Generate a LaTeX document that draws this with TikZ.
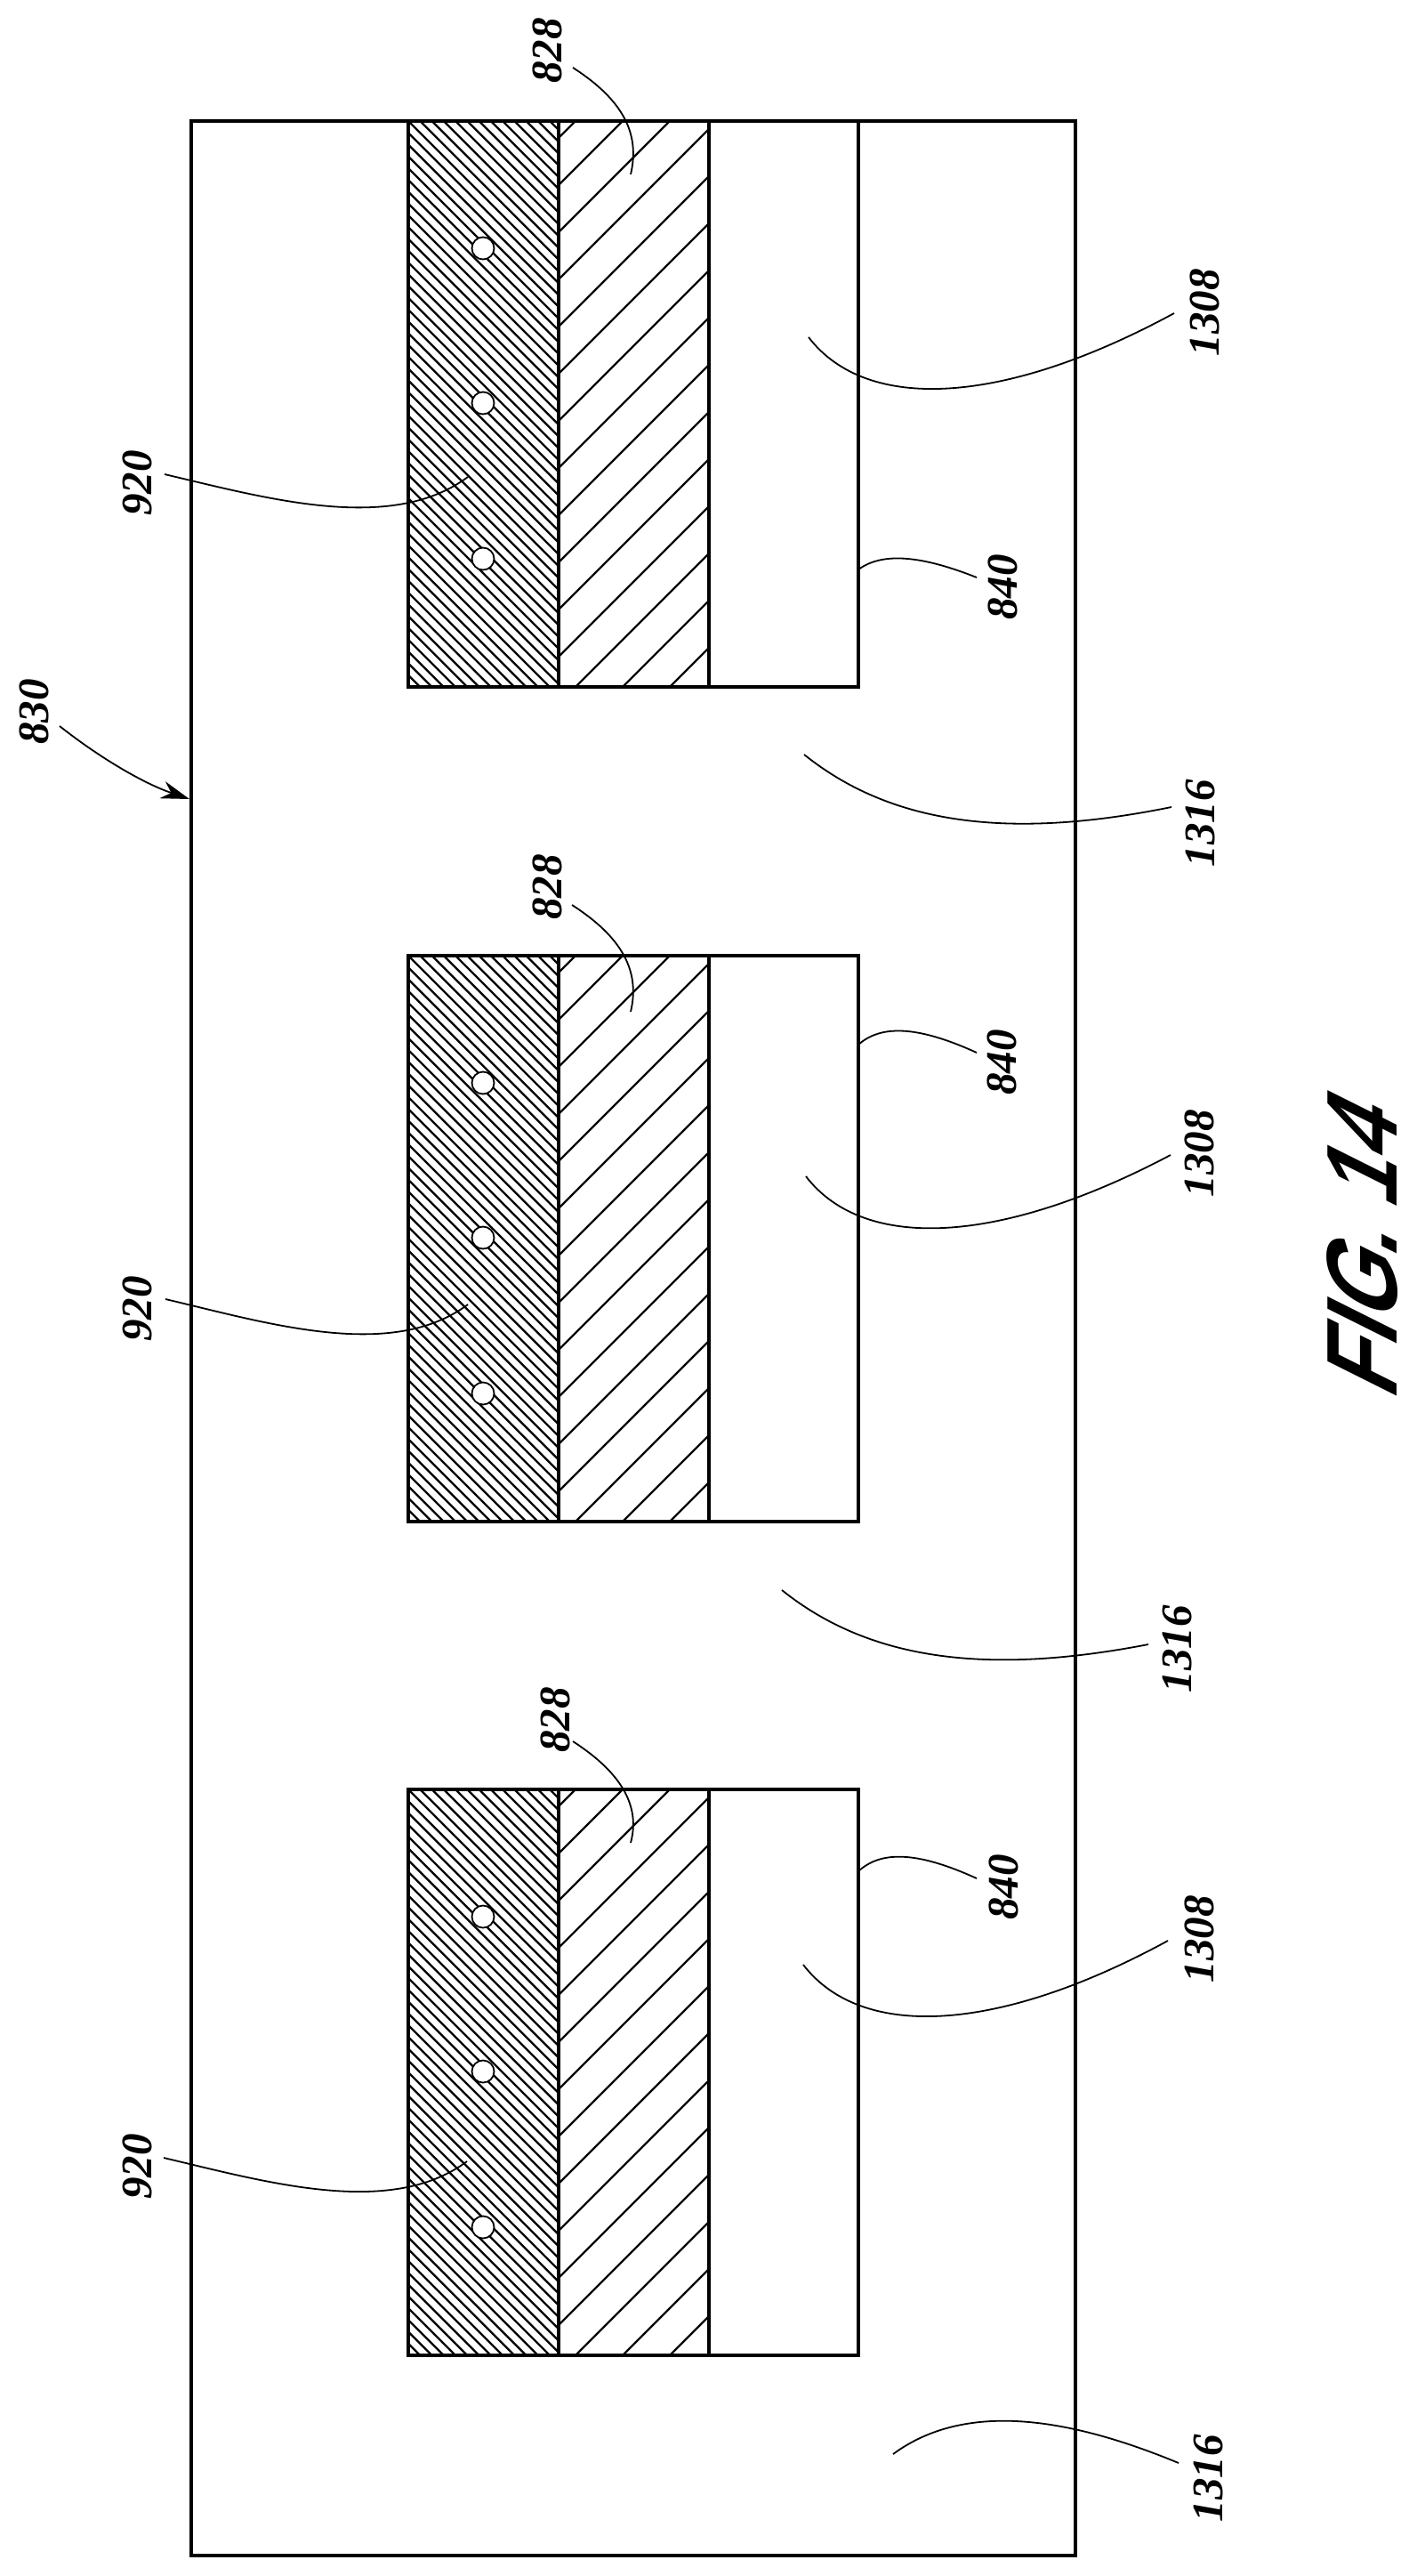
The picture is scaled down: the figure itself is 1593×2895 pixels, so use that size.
\documentclass[tikz,border=0pt]{standalone}
\usepackage{fontspec}
\setmainfont{Liberation Serif}
\newfontfamily\figfont[FakeSlant=0.5,FakeStretch=0.85]{Liberation Sans}
\usetikzlibrary{positioning, arrows.meta, calc}

\begin{document}
\begin{tikzpicture}[
        x=0.5pt, y=-0.5pt,
        substrate/.style={rectangle, draw, line width=2.1pt, inner sep=0pt, outer sep=0pt, anchor=north west, minimum width=497pt, minimum height=1368pt},
        layer/.style={rectangle, draw, line width=1.9pt, inner sep=0pt, outer sep=0pt, anchor=north west, minimum height=318pt},
        densehatch/.style={layer, minimum width=84.5pt, path picture={
            \foreach \k in {0,...,61}
                \draw[line width=1.1pt] ($(path picture bounding box.north west)+(\k*13.25-636,0)$) -- +(700,700);
        }},
        widehatch/.style={layer, minimum width=84.5pt, path picture={
            \foreach \k in {0,...,15}
                \draw[line width=1.1pt] ($(path picture bounding box.north west)+(19+\k*53,0)$) -- +(-700,700);
        }},
        plainlayer/.style={layer, minimum width=84pt},
        dot/.style={circle, draw, fill=white, line width=0.9pt, inner sep=0pt, minimum size=12.5pt},
        refnum/.style={rotate=90, inner sep=0pt, font=\bfseries\itshape\fontsize{24.5}{24.5}\selectfont},
        leader/.style={line width=0.9pt},
        arrow/.style={-{Stealth[length=16pt, width=10pt]}, line width=0.9pt}
    ]
        \useasboundingbox (0,0) rectangle (1593,2895);

        % Outer sheet
        \node[substrate] (sheet) at (215,136) {};

        % Three stacks of layers
        \foreach \s/\ytop in {a/136, b/1074, c/2011} {
            \node[densehatch] (dense\s) at (459,\ytop) {};
            \node[widehatch] (wide\s) at (628,\ytop) {};
            \node[plainlayer] (plain\s) at (797,\ytop) {};
            \node[dot] (dot\s1) at (543,\ytop+143) {};
            \node[dot] (dot\s2) at (543,\ytop+317) {};
            \node[dot] (dot\s3) at (543,\ytop+492) {};
        }

        % Labels of the top stack
        \node[refnum] (n828a) at (615,57) {828};
        \node[refnum] (n920a) at (154,543) {920};
        \node[refnum] (n1308a) at (1354,351) {1308};
        \node[refnum] (n840a) at (1127,660) {840};
        \node[refnum] (n1316a) at (1349,925) {1316};
        \node[refnum] (n830) at (38,800) {830};

        % Labels of the middle stack
        \node[refnum] (n828b) at (615,997) {828};
        \node[refnum] (n920b) at (154,1471) {920};
        \node[refnum] (n1308b) at (1348,1296) {1308};
        \node[refnum] (n840b) at (1126,1194) {840};
        \node[refnum] (n1316b) at (1323,1853) {1316};

        % Labels of the bottom stack
        \node[refnum] (n828c) at (624,1933) {828};
        \node[refnum] (n920c) at (154,2435) {920};
        \node[refnum] (n1308c) at (1348,2179) {1308};
        \node[refnum] (n840c) at (1128,2121) {840};
        \node[refnum] (n1316c) at (1358,2785) {1316};

        % Figure title
        \node[rotate=90, inner sep=0pt, font=\figfont\bfseries\fontsize{56.5}{56.5}\selectfont] (title) at (1532,1415) {FIG. 14};

        % Leader ends
        \coordinate (s828a) at (644,76);      \coordinate (e828a) at (709,196);
        \coordinate (s920a) at (185,533);     \coordinate (e920a) at (526,536);
        \coordinate (s1308a) at (1320,352);   \coordinate (e1308a) at (909,379);
        \coordinate (s840a) at (1098,649);    \coordinate (e840a) at (965,640);
        \coordinate (s1316a) at (1317,907);   \coordinate (e1316a) at (904,848);
        \coordinate (s828b) at (643,1017);    \coordinate (e828b) at (709,1137);
        \coordinate (s920b) at (186,1460);    \coordinate (e920b) at (526,1466);
        \coordinate (s1308b) at (1316,1298);  \coordinate (e1308b) at (906,1322);
        \coordinate (s840b) at (1098,1183);   \coordinate (e840b) at (965,1174);
        \coordinate (s1316b) at (1291,1848);  \coordinate (e1316b) at (879,1787);
        \coordinate (s828c) at (644,1957);    \coordinate (e828c) at (709,2071);
        \coordinate (s920c) at (184,2425);    \coordinate (e920c) at (525,2429);
        \coordinate (s1308c) at (1313,2181);  \coordinate (e1308c) at (903,2208);
        \coordinate (s840c) at (1098,2111);   \coordinate (e840c) at (965,2103);
        \coordinate (s1316c) at (1325,2768);  \coordinate (e1316c) at (1004,2758);
        \coordinate (s830) at (67,816);       \coordinate (e830) at (213,898);

        % Leaders, top stack
        \draw[leader] (s828a) .. controls (700,112) and (720,150) .. (e828a);
        \draw[leader] (s920a) .. controls (300,560) and (440,600) .. (e920a);
        \draw[leader] (s1308a) .. controls (1130,455) and (975,465) .. (e1308a);
        \draw[leader] (s840a) .. controls (1030,622) and (990,622) .. (e840a);
        \draw[leader] (s1316a) .. controls (1130,945) and (1000,925) .. (e1316a);

        % Leaders, middle stack
        \draw[leader] (s828b) .. controls (699,1053) and (720,1091) .. (e828b);
        \draw[leader] (s920b) .. controls (301,1487) and (440,1530) .. (e920b);
        \draw[leader] (s1308b) .. controls (1127,1398) and (972,1408) .. (e1308b);
        \draw[leader] (s840b) .. controls (1030,1152) and (990,1152) .. (e840b);
        \draw[leader] (s1316b) .. controls (1105,1884) and (975,1864) .. (e1316b);

        % Leaders, bottom stack
        \draw[leader] (s828c) .. controls (700,1993) and (720,2031) .. (e828c);
        \draw[leader] (s920c) .. controls (299,2452) and (439,2493) .. (e920c);
        \draw[leader] (s1308c) .. controls (1124,2284) and (969,2294) .. (e1308c);
        \draw[leader] (s840c) .. controls (1030,2080) and (990,2080) .. (e840c);
        \draw[leader] (s1316c) .. controls (1190,2712) and (1080,2702) .. (e1316c);

        % Arrow to the sheet
        \draw[arrow] (s830) .. controls (110,850) and (160,880) .. (e830);
    \end{tikzpicture}
\end{document}
